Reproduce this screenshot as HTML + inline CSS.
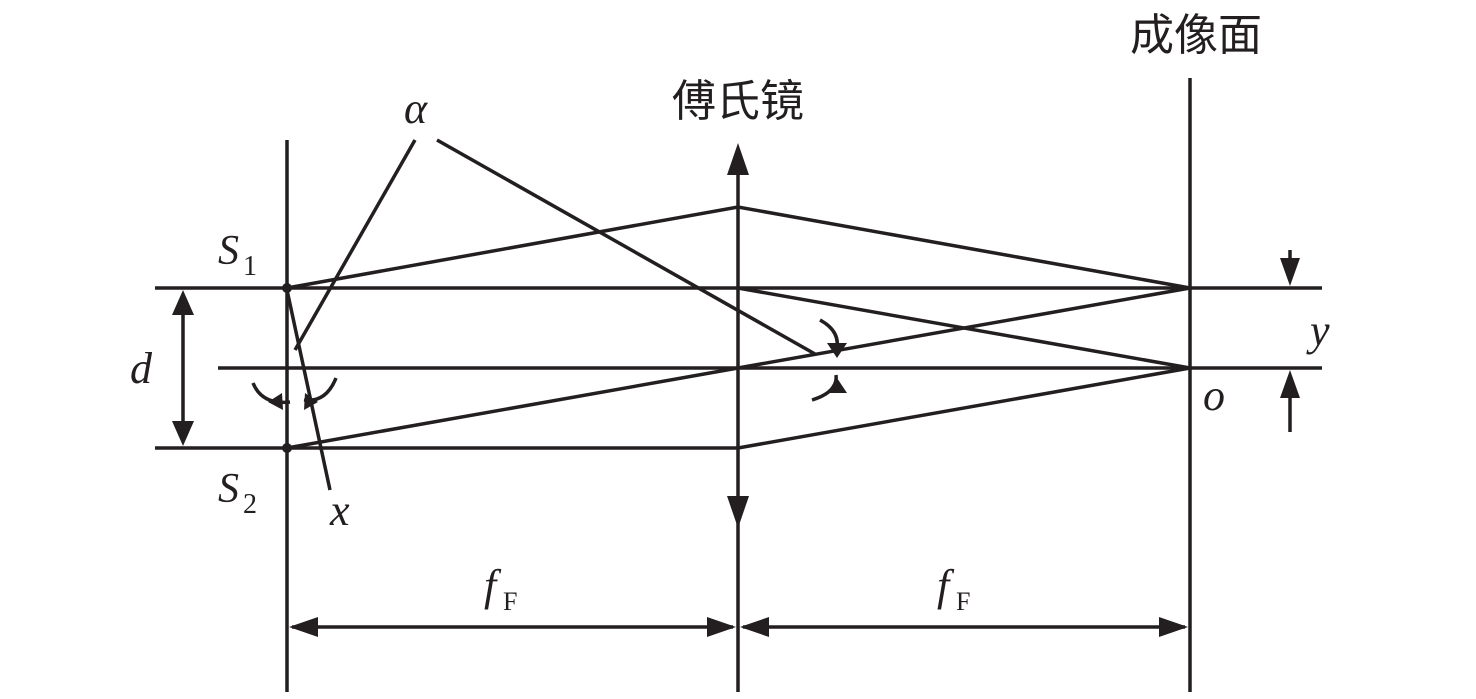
<!DOCTYPE html>
<html><head><meta charset="utf-8"><style>html,body{margin:0;padding:0;background:#fff}svg{display:block}</style></head>
<body>
<svg width="1476" height="699" viewBox="0 0 1476 699" xmlns="http://www.w3.org/2000/svg">
<g stroke="#231f20" stroke-width="3.5" fill="none">
<line x1="287" y1="140" x2="287" y2="692"/>
<line x1="738" y1="150" x2="738" y2="692" />
<line x1="1190" y1="78" x2="1190" y2="692"/>
<line x1="155" y1="288" x2="1322" y2="288"/>
<line x1="218" y1="368" x2="1322" y2="368"/>
<line x1="155" y1="448" x2="738" y2="448"/>
<polyline points="287,288 738,207 1190,288"/>
<polyline points="738,288 1190,368"/>
<polyline points="287,448 738,368 1190,288"/>
<polyline points="738,448 1190,368"/>
<line x1="415" y1="140" x2="295" y2="350"/>
<line x1="437" y1="140" x2="815" y2="354"/>
<line x1="287" y1="290" x2="330" y2="490"/>
<path d="M253,383 Q262,405 290,402"/>
<path d="M336,378 Q326,403 304,400"/>
<path d="M820,320 Q842,332 836,352"/>
<path d="M812,400 Q838,392 836,375"/>
<line x1="183" y1="300" x2="183" y2="436"/>
<line x1="1290" y1="250" x2="1290" y2="280"/>
<line x1="1290" y1="432" x2="1290" y2="376"/>
<line x1="292" y1="627" x2="733" y2="627"/>
<line x1="743" y1="627" x2="1185" y2="627"/>
</g>
<g fill="#231f20">
<circle cx="287" cy="288" r="5"/><circle cx="287" cy="448" r="5"/>
<path d="M738,143 L727,175 L749,175z"/><path d="M738,528 L727,496 L749,496z"/>
<path d="M183,290 L172,315 L194,315z"/><path d="M183,446 L172,421 L194,421z"/>
<path d="M1290,286 L1280,258 L1300,258z"/><path d="M1290,370 L1280,398 L1300,398z"/>
<path d="M289,627 L318,617 L318,637z"/><path d="M736,627 L707,617 L707,637z"/>
<path d="M740,627 L769,617 L769,637z"/><path d="M1188,627 L1159,617 L1159,637z"/>
<path d="M268,402 L282,393 L283,410z"/><path d="M318,402 L305,393 L304,410z"/>
<path d="M837,358 L827,343 L847,343z"/><path d="M837,378 L827,393 L847,393z"/>
</g>
<g font-family="'Liberation Serif',serif" font-style="italic" fill="#231f20">
<text x="404" y="123" font-size="44">α</text>
<text x="218" y="264" font-size="42">S</text><text x="243" y="275" font-size="28" font-style="normal">1</text>
<text x="218" y="502" font-size="42">S</text><text x="243" y="513" font-size="28" font-style="normal">2</text>
<text x="130" y="383" font-size="44">d</text>
<text x="330" y="525" font-size="44">x</text>
<text x="1310" y="345" font-size="44">y</text>
<text x="1203" y="410" font-size="44">o</text>
<text x="484" y="600" font-size="44">f</text><text x="503" y="610" font-size="26" font-style="normal">F</text>
<text x="937" y="600" font-size="44">f</text><text x="956" y="610" font-size="26" font-style="normal">F</text>
</g>
<g font-family="'Liberation Sans','Noto Sans CJK SC',sans-serif" fill="#231f20" font-size="44" text-anchor="middle">
<text x="738" y="116">傅氏镜</text>
<text x="1196" y="50">成像面</text>
</g>
</svg>
</body></html>
